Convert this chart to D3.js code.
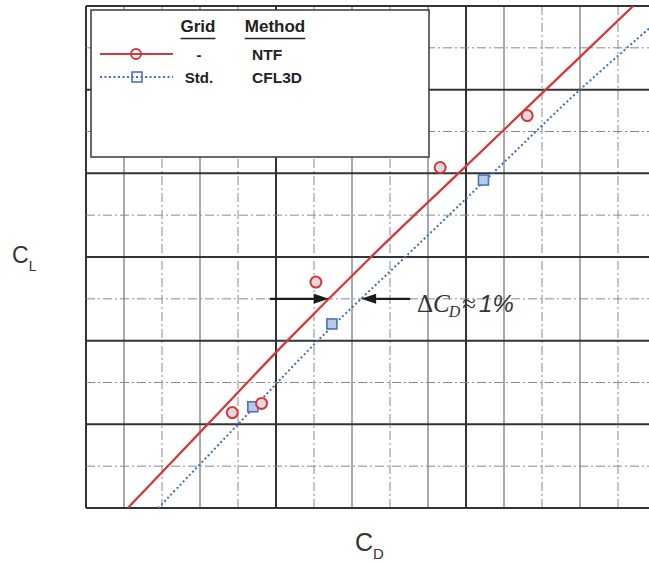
<!DOCTYPE html>
<html>
<head>
<meta charset="utf-8">
<script src="https://cdn.jsdelivr.net/npm/d3@7"></script>
<style>
  html, body { margin: 0; padding: 0; background: #fff; }
  svg { display: block; }
</style>
</head>
<body>
<svg id="chart" width="649" height="563"></svg>
<script>
// Drag polar: lift coefficient vs drag coefficient, NTF test vs CFL3D prediction
const liftGrid = [0, 0.1, 0.2, 0.3, 0.4, 0.5, 0.6];

// faired polar lines (CD at each CL of liftGrid)
const ntfCurveCD   = [0.0211, 0.0232, 0.0253, 0.0275, 0.0298, 0.0321, 0.0344];
const cfl3dCurveCD = [0.0219, 0.0240, 0.0261, 0.0284, 0.0307, 0.0330, 0.0355];

// measured / computed points
const ntfPointsCD   = [0.02385, 0.02462, 0.02605, 0.02932, 0.03161];
const ntfPointsCL   = [0.114, 0.125, 0.270, 0.407, 0.469];
const cfl3dPointsCD = [0.02439, 0.02647, 0.03046];
const cfl3dPointsCL = [0.121, 0.220, 0.392];

// legend rows
const legendGrid   = ["-", "Std."];
const legendMethod = ["NTF", "CFL3D"];

// drag-increment annotation at CL = 0.25
const deltaCL = 0.25;
const deltaArrowTailsCD = [0.02484, 0.02853];
const deltaArrowTipsCD  = [0.02639, 0.02724];

const svg = d3.select("#chart");
const W = 649, H = 563;
const plot = { left: 86, top: 6, right: 656, bottom: 508 };

const x = d3.scaleLinear().domain([0.020, 0.035]).range([plot.left, plot.right]);
const y = d3.scaleLinear().domain([0, 0.6]).range([plot.bottom, plot.top]);

svg.append("rect").attr("width", W).attr("height", H).attr("fill", "#fff");

svg.append("defs").append("clipPath").attr("id", "plotclip")
  .append("rect")
  .attr("x", plot.left).attr("y", plot.top)
  .attr("width", plot.right - plot.left).attr("height", plot.bottom - plot.top);

// ---- grid ----
const grid = svg.append("g");
const xTicks = d3.range(0, 16).map(i => ({ i, v: 0.020 + i * 0.001 }));
const yTicks = d3.range(0, 13).map(j => ({ j, v: j * 0.05 }));

grid.selectAll("line.v").data(xTicks).join("line")
  .attr("x1", d => x(d.v)).attr("x2", d => x(d.v))
  .attr("y1", plot.top).attr("y2", plot.bottom)
  .attr("stroke", d => d.i % 5 === 0 ? "#333" : (d.i % 2 ? "#555" : "#8a8a8a"))
  .attr("stroke-width", d => d.i % 5 === 0 ? 2 : 1)
  .attr("stroke-dasharray", d => (d.i % 5 !== 0 && d.i % 2 === 0) ? "9,3,2,3" : null);

grid.selectAll("line.h").data(yTicks).join("line")
  .attr("x1", plot.left).attr("x2", plot.right)
  .attr("y1", d => y(d.v)).attr("y2", d => y(d.v))
  .attr("stroke", d => d.j % 2 === 0 ? "#333" : "#8a8a8a")
  .attr("stroke-width", d => d.j % 2 === 0 ? 2 : 1)
  .attr("stroke-dasharray", d => d.j % 2 === 0 ? null : "9,3,2,3");

// ---- legend box (sits over the grid) ----
const lg = svg.append("g");
lg.append("rect")
  .attr("x", 91).attr("y", 10).attr("width", 338).attr("height", 147)
  .attr("fill", "#fff").attr("stroke", "#444").attr("stroke-width", 1.6);

const font = "'Liberation Sans', Arial, sans-serif";
function header(txt, cx) {
  const t = lg.append("text").attr("x", cx).attr("y", 32)
    .attr("text-anchor", "middle").attr("font-family", font)
    .attr("font-weight", "bold").attr("font-size", 17).attr("fill", "#222").text(txt);
  const w = t.node().getComputedTextLength();
  lg.append("line").attr("x1", cx - w / 2).attr("x2", cx + w / 2)
    .attr("y1", 38.5).attr("y2", 38.5).attr("stroke", "#222").attr("stroke-width", 1.6);
}
header("Grid", 198);
header("Method", 275);

const rowY = [54, 77];
// row 1: NTF
lg.append("line").attr("x1", 100).attr("x2", 173).attr("y1", rowY[0]).attr("y2", rowY[0])
  .attr("stroke", "#d2393c").attr("stroke-width", 2);
lg.append("circle").attr("cx", 136).attr("cy", rowY[0]).attr("r", 5)
  .attr("fill", "none").attr("stroke", "#d2393c").attr("stroke-width", 2);
// row 2: CFL3D
lg.append("line").attr("x1", 100).attr("x2", 173).attr("y1", rowY[1]).attr("y2", rowY[1])
  .attr("stroke", "#3d6fc4").attr("stroke-width", 2).attr("stroke-dasharray", "2,2.5");
lg.append("rect").attr("x", 132).attr("y", rowY[1] - 5).attr("width", 10).attr("height", 10)
  .attr("fill", "none").attr("stroke", "#4a72c0").attr("stroke-width", 1.6);

legendGrid.forEach((g, k) => {
  lg.append("text").attr("x", 199).attr("y", rowY[k] + 6).attr("text-anchor", "middle")
    .attr("font-family", font).attr("font-weight", "bold").attr("font-size", 15)
    .attr("fill", "#222").text(g);
});
legendMethod.forEach((m, k) => {
  lg.append("text").attr("x", 252).attr("y", rowY[k] + 6)
    .attr("font-family", font).attr("font-weight", "bold").attr("font-size", 15.5)
    .attr("fill", "#222").text(m);
});

// ---- polar curves ----
const curves = svg.append("g").attr("clip-path", "url(#plotclip)");
const line = d3.line().x(d => x(d[0])).y(d => y(d[1])).curve(d3.curveCatmullRom);

curves.append("path")
  .datum(liftGrid.map((cl, i) => [ntfCurveCD[i], cl]))
  .attr("d", line).attr("fill", "none")
  .attr("stroke", "#d2393c").attr("stroke-width", 2.3);

curves.append("path")
  .datum(liftGrid.map((cl, i) => [cfl3dCurveCD[i], cl]))
  .attr("d", line).attr("fill", "none")
  .attr("stroke", "#3d6fc4").attr("stroke-width", 2).attr("stroke-dasharray", "2,2.5");

// ---- markers ----
curves.selectAll("rect.cfl").data(cfl3dPointsCD.map((cd, i) => [cd, cfl3dPointsCL[i]])).join("rect")
  .attr("x", d => x(d[0]) - 5).attr("y", d => y(d[1]) - 5)
  .attr("width", 10).attr("height", 10)
  .attr("fill", "#b8cbe6").attr("stroke", "#4a72c0").attr("stroke-width", 1.6);

curves.selectAll("circle.ntf").data(ntfPointsCD.map((cd, i) => [cd, ntfPointsCL[i]])).join("circle")
  .attr("cx", d => x(d[0])).attr("cy", d => y(d[1])).attr("r", 5.5)
  .attr("fill", "#e4dadd").attr("stroke", "#d2393c").attr("stroke-width", 2);

// ---- ΔCD annotation ----
const ann = svg.append("g");
function arrow(fromCD, toCD) {
  const x0 = x(fromCD), x1 = x(toCD), yy = y(deltaCL);
  const dir = Math.sign(x1 - x0), head = 15;
  ann.append("line").attr("x1", x0).attr("x2", x1 - dir * head)
    .attr("y1", yy).attr("y2", yy).attr("stroke", "#1c1c1c").attr("stroke-width", 2.4);
  ann.append("path")
    .attr("d", `M${x1},${yy} L${x1 - dir * head},${yy - 5} L${x1 - dir * head},${yy + 5} Z`)
    .attr("fill", "#1c1c1c");
}
arrow(deltaArrowTailsCD[0], deltaArrowTipsCD[0]);
arrow(deltaArrowTailsCD[1], deltaArrowTipsCD[1]);

const serif = "'Liberation Serif', serif";
const label = ann.append("text").attr("x", 417).attr("y", 312)
  .attr("font-size", 25).attr("fill", "#333");
label.append("tspan").attr("font-family", serif).text("Δ");
label.append("tspan").attr("font-family", serif).attr("font-style", "italic").text("C");
label.append("tspan").attr("font-family", serif).attr("font-style", "italic")
  .attr("font-size", 16).attr("dy", 5).attr("dx", -1).text("D");
label.append("tspan").attr("font-family", serif).attr("dy", -5).attr("dx", 2).text("≈");
label.append("tspan").attr("font-family", font).attr("font-style", "italic")
  .attr("font-size", 24).attr("dx", 3).text("1%");

// ---- axis titles ----
const yt = svg.append("text").attr("x", 12).attr("y", 263)
  .attr("font-family", font).attr("font-size", 23).attr("fill", "#333");
yt.append("tspan").text("C");
yt.append("tspan").attr("font-size", 14).attr("dy", 8).text("L");

const xt = svg.append("text").attr("x", 355).attr("y", 551)
  .attr("font-family", font).attr("font-size", 25).attr("fill", "#333");
xt.append("tspan").text("C");
xt.append("tspan").attr("font-size", 15).attr("dy", 8).text("D");
</script>
</body>
</html>
